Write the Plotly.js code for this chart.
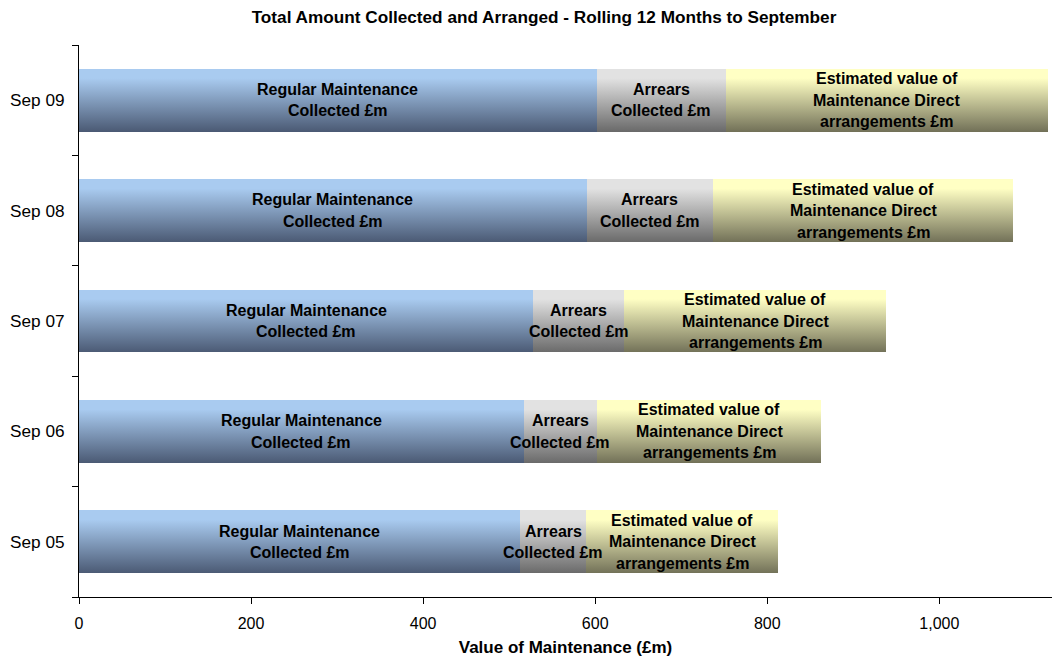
<!DOCTYPE html>
<html>
<head>
<meta charset="utf-8">
<script src="https://cdn.plot.ly/plotly-3.0.1.min.js"></script>
<style>
  html, body { margin: 0; padding: 0; background: #fff; }
  #chart { width: 1053px; height: 657px; }
</style>
</head>
<body>
<div id="chart"></div>
<script>
// ---- Data ----
const categories = ['Sep 05', 'Sep 06', 'Sep 07', 'Sep 08', 'Sep 09'];
const regularCollected = [513, 517, 528, 590, 602];
const arrearsCollected = [76, 85, 106, 147, 150];
const directArrangements = [224, 261, 304, 349, 374];

const seriesNames = ['Regular Maintenance Collected £m', 'Arrears Collected £m', 'Estimated value of Maintenance Direct arrangements £m'];
const segmentLabelLines = [
  ['Regular Maintenance', 'Collected £m'],
  ['Arrears', 'Collected £m'],
  ['Estimated value of', 'Maintenance Direct', 'arrangements £m']
];
const xTickValues = [0, 200, 400, 600, 800, 1000];
const xTickLabels = ['0', '200', '400', '600', '800', '1,000'];

const chartTitle = 'Total Amount Collected and Arranged - Rolling 12 Months to September';
const xAxisTitle = 'Value of Maintenance (£m)';

// ---- Styling ----
const FONT = '"Liberation Sans", Arial, sans-serif';
const gradients = [
  { id: 'gradBlue',   top: '#a9cbf0', mid: '#7f98b8', bottom: '#4b5a74' },
  { id: 'gradGrey',   top: '#e2e2e2', mid: '#b0b0b0', bottom: '#6a6a6a' },
  { id: 'gradYellow', top: '#ffffc4', mid: '#c8c894', bottom: '#727158' }
];

const seriesValues = [regularCollected, arrearsCollected, directArrangements];

const traces = seriesValues.map((vals, s) => ({
  type: 'bar',
  orientation: 'h',
  name: seriesNames[s],
  y: categories,
  x: vals,
  marker: { color: gradients[s].mid, line: { width: 0 } },
  hoverinfo: 'x+name'
}));

// Annotation labels centred on each segment (positions from data)
const annotations = [];
const LINE_H = 21.5;
categories.forEach((cat, i) => {
  let base = 0;
  seriesValues.forEach((vals, s) => {
    const centre = base + vals[i] / 2;
    const lines = segmentLabelLines[s];
    const n = lines.length;
    lines.forEach((ln, k) => {
      annotations.push({
        x: centre, y: cat, xref: 'x', yref: 'y',
        text: ln, showarrow: false,
        xanchor: 'center', yanchor: 'middle',
        yshift: ((n - 1) / 2 - k) * LINE_H,
        font: { family: FONT, size: 16, color: '#000', weight: 'bold' }
      });
    });
    base += vals[i];
  });
});

const layout = {
  width: 1053, height: 657,
  margin: { l: 79, r: 1, t: 45, b: 60 },
  paper_bgcolor: '#fff', plot_bgcolor: '#fff',
  barmode: 'stack',
  bargap: 0.43,
  showlegend: false,
  title: {
    text: chartTitle,
    font: { family: FONT, size: 17.2, color: '#000', weight: 'bold' },
    x: 544 / 1053, xref: 'container', xanchor: 'center',
    y: 1 - 17 / 657, yref: 'container', yanchor: 'middle'
  },
  xaxis: {
    range: [0, 1131],
    tickmode: 'array', tickvals: xTickValues, ticktext: xTickLabels,
    ticks: 'outside', ticklen: 6, tickcolor: '#000', tickwidth: 1,
    ticklabelstandoff: 6,
    showline: true, linecolor: '#000', linewidth: 1,
    showgrid: false, zeroline: false,
    tickfont: { family: FONT, size: 16, color: '#000' },
    title: { text: xAxisTitle, font: { family: FONT, size: 17, color: '#000', weight: 'bold' }, standoff: 12 },
    fixedrange: true
  },
  yaxis: {
    type: 'category',
    categoryorder: 'array', categoryarray: categories,
    ticks: 'outside', tickson: 'boundaries', ticklen: 6, tickcolor: '#000', tickwidth: 1,
    ticklabelstandoff: 10,
    showline: true, linecolor: '#000', linewidth: 1,
    showgrid: false, zeroline: false,
    tickfont: { family: FONT, size: 17.2, color: '#000' },
    fixedrange: true
  },
  annotations: annotations
};

function applyGradients(gd) {
  const svg = gd.querySelector('.main-svg');
  let defs = svg.querySelector('defs');
  if (!defs) { defs = document.createElementNS('http://www.w3.org/2000/svg', 'defs'); svg.insertBefore(defs, svg.firstChild); }
  const NS = 'http://www.w3.org/2000/svg';
  gradients.forEach(g => {
    const lg = document.createElementNS(NS, 'linearGradient');
    lg.setAttribute('id', g.id);
    lg.setAttribute('x1', '0'); lg.setAttribute('y1', '0');
    lg.setAttribute('x2', '0'); lg.setAttribute('y2', '1');
    [[0, g.top], [0.15, g.top], [1, g.bottom]].forEach(([o, c]) => {
      const st = document.createElementNS(NS, 'stop');
      st.setAttribute('offset', o);
      st.setAttribute('stop-color', c);
      lg.appendChild(st);
    });
    defs.appendChild(lg);
  });
  const traceGroups = gd.querySelectorAll('.barlayer .trace');
  traceGroups.forEach((tg, s) => {
    tg.querySelectorAll('.point path').forEach(p => {
      p.style.fill = 'url(#' + gradients[s].id + ')';
    });
  });
}

Plotly.newPlot('chart', traces, layout, { displayModeBar: false, staticPlot: true })
  .then(applyGradients);
</script>
</body>
</html>
